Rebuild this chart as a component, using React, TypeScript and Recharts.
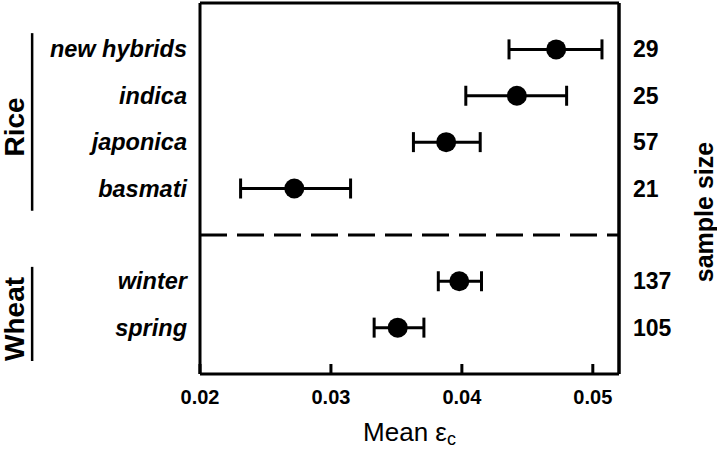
import React from 'react';
import { ScatterChart, Scatter, XAxis, YAxis, ErrorBar, ReferenceLine } from 'recharts';

// row positions on the vertical axis (top = 0); 5 is the rice / wheat divider
const varieties = ['new hybrids', 'indica', 'japonica', 'basmati', 'winter', 'spring'];
const rowPos = [1, 2, 3, 4, 6, 7];
const meanEc = [0.0472, 0.0442, 0.0388, 0.0272, 0.0398, 0.0351];
const lowEc = [0.0436, 0.0403, 0.0363, 0.0231, 0.0382, 0.0333];
const highEc = [0.0507, 0.048, 0.0414, 0.0315, 0.0415, 0.0371];
const sampleSizes = [29, 25, 57, 21, 137, 105];
const xTicks = [0.02, 0.03, 0.04, 0.05];

const groups = ['Rice', 'Wheat'];
const groupFrom = [0.65, 5.69];
const groupTo = [4.48, 7.72];
const dividerPos = 5;

const X_MIN = 0.02;
const X_MAX = 0.052;
const BRACKET_X = 0.00718;

const FONT = "'Liberation Sans', Arial, Helvetica, sans-serif";

const data = varieties.map((name, i) => ({
  name,
  x: meanEc[i],
  y: rowPos[i],
  n: sampleSizes[i],
  err: [meanEc[i] - lowEc[i], highEc[i] - meanEc[i]],
}));

const nameAt = (v: number) => varieties[rowPos.indexOf(v)] ?? '';
const sizeAt = (v: number) => {
  const i = rowPos.indexOf(v);
  return i >= 0 ? String(sampleSizes[i]) : '';
};

const XTick = (props: any) => {
  const { x, y, payload } = props;
  return (
    <g>
      <line x1={x} x2={x} y1={y} y2={y - 10} stroke="#000" strokeWidth={3} />
      <text
        x={x}
        y={y + 23}
        textAnchor="middle"
        dominantBaseline="central"
        fontFamily={FONT}
        fontWeight="bold"
        fontSize={20}
        fill="#000"
      >
        {Number(payload.value).toFixed(2)}
      </text>
    </g>
  );
};

const NameTick = (props: any) => {
  const { x, y, payload } = props;
  return (
    <text
      x={x}
      y={y}
      textAnchor="end"
      dominantBaseline="central"
      fontFamily={FONT}
      fontWeight="bold"
      fontStyle="italic"
      fontSize={23.5}
      fill="#000"
    >
      {nameAt(payload.value)}
    </text>
  );
};

const SizeTick = (props: any) => {
  const { x, y, payload } = props;
  return (
    <text
      x={x}
      y={y}
      textAnchor="start"
      dominantBaseline="central"
      fontFamily={FONT}
      fontWeight="bold"
      fontSize={23}
      fill="#000"
    >
      {sizeAt(payload.value)}
    </text>
  );
};

const Dot = (props: any) => <circle cx={props.cx} cy={props.cy} r={10} fill="#000" />;
const NoDot = () => <g />;

const groupLabel = (text: string) => (props: any) => {
  const vb = props.viewBox || {};
  const cx = (vb.x ?? 0) - 18;
  const cy = (vb.y ?? 0) + (vb.height ?? 0) / 2 + 5;
  return (
    <text
      x={cx}
      y={cy}
      transform={`rotate(-90 ${cx} ${cy})`}
      textAnchor="middle"
      dominantBaseline="central"
      fontFamily={FONT}
      fontWeight="bold"
      fontSize={28}
      fill="#000"
    >
      {text}
    </text>
  );
};

export default function App() {
  return (
    <div style={{ position: 'absolute', left: 0, top: 0, background: '#fff' }}>
      <ScatterChart width={717} height={456} margin={{ top: 3, right: 0, bottom: 0, left: 0 }}>
        <XAxis
          xAxisId="x"
          type="number"
          dataKey="x"
          domain={[X_MIN, X_MAX]}
          ticks={xTicks}
          allowDataOverflow
          height={82}
          axisLine={{ stroke: '#000', strokeWidth: 3 }}
          tickLine={false}
          tickSize={0}
          tickMargin={0}
          tick={<XTick />}
          label={{
            content: (p: any) => {
              const vb = p.viewBox || {};
              return (
                <text
                  x={vb.x + vb.width / 2}
                  y={vb.y + 58}
                  textAnchor="middle"
                  dominantBaseline="central"
                  fontFamily={FONT}
                  fontSize={26}
                  fill="#000"
                >
                  Mean ε
                  <tspan fontSize={18} dy={7}>c</tspan>
                </text>
              );
            },
          }}
        />
        <YAxis
          yAxisId="cat"
          type="number"
          dataKey="y"
          domain={[0, 8]}
          reversed
          ticks={rowPos}
          width={200}
          axisLine={{ stroke: '#000', strokeWidth: 3 }}
          tickLine={false}
          tickSize={0}
          tickMargin={13}
          tick={<NameTick />}
        />
        <YAxis
          yAxisId="n"
          orientation="right"
          type="number"
          dataKey="y"
          domain={[0, 8]}
          reversed
          allowDataOverflow
          ticks={rowPos}
          width={98}
          axisLine={{ stroke: '#000', strokeWidth: 3 }}
          tickLine={false}
          tickSize={0}
          tickMargin={14}
          tick={<SizeTick />}
          label={{
            content: (p: any) => {
              const vb = p.viewBox || {};
              const cx = vb.x + 85;
              const cy = vb.y + 209;
              return (
                <text
                  x={cx}
                  y={cy}
                  transform={`rotate(-90 ${cx} ${cy})`}
                  textAnchor="middle"
                  dominantBaseline="central"
                  fontFamily={FONT}
                  fontWeight="bold"
                  fontSize={25}
                  fill="#000"
                >
                  sample size
                </text>
              );
            },
          }}
        />
        <ReferenceLine xAxisId="x" yAxisId="cat" y={0} stroke="#000" strokeWidth={3} />
        <ReferenceLine xAxisId="x" yAxisId="cat" x={X_MAX} stroke="#000" strokeWidth={3} />
        <ReferenceLine
          xAxisId="x"
          yAxisId="cat"
          y={dividerPos}
          stroke="#000"
          strokeWidth={3}
          strokeDasharray="27 10"
        />
        {groups.map((g, i) => (
          <ReferenceLine
            key={g}
            xAxisId="x"
            yAxisId="cat"
            ifOverflow="visible"
            segment={[
              { x: BRACKET_X, y: groupFrom[i] },
              { x: BRACKET_X, y: groupTo[i] },
            ]}
            stroke="#000"
            strokeWidth={2.5}
            label={{ content: groupLabel(g) }}
          />
        ))}
        {/* invisible series so the sample-size axis has data bound to it */}
        <Scatter
          xAxisId="x"
          yAxisId="n"
          data={data}
          dataKey="x"
          shape={<NoDot />}
          isAnimationActive={false}
        />
        <Scatter
          xAxisId="x"
          yAxisId="cat"
          data={data}
          dataKey="x"
          shape={<Dot />}
          isAnimationActive={false}
        >
          <ErrorBar dataKey="err" direction="x" width={10} strokeWidth={3} stroke="#000" />
        </Scatter>
      </ScatterChart>
    </div>
  );
}
